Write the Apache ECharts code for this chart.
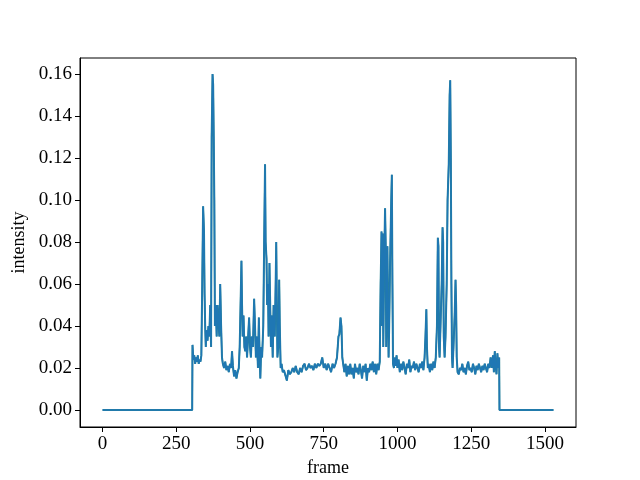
<!DOCTYPE html>
<html>
<head>
<meta charset="utf-8">
<script src="https://cdn.jsdelivr.net/npm/echarts@6/dist/echarts.min.js"></script>
<style>html,body{margin:0;padding:0;background:#fff}#c{width:640px;height:480px}</style>
</head>
<body>
<div id="c"></div>
<script>
const frames = [0,304,305,308,311,314,317,320,323,326,329,332,335,338,341,344,346,348,350,353,356,359,362,365,368,370,373,375,377,379,381,384,387,390,393,396,399,402,405,408,412,416,420,424,428,432,436,439,442,446,450,454,458,462,465,468,471,473,475,478,481,484,487,490,493,497,500,503,506,510,514,517,520,523,527,530,532,535,538,541,545,548,551,553,556,558,561,563,566,568,571,574,577,580,584,587,589,591,593,596,599,601,604,607,611,615,619,625,630,635,640,645,650,655,660,665,670,675,680,685,690,695,700,705,710,715,720,725,730,735,740,745,750,755,760,765,770,775,780,785,790,795,800,803,807,810,813,816,820,824,828,832,836,840,844,848,852,856,860,864,868,872,876,880,884,888,892,896,900,904,908,912,916,920,924,928,932,936,940,943,946,948,950,952,955,958,960,962,964,966,968,970,972,975,979,981,983,985,988,991,994,997,1000,1004,1008,1012,1016,1020,1024,1028,1032,1036,1040,1044,1048,1052,1056,1060,1064,1068,1072,1076,1080,1084,1088,1092,1095,1098,1100,1103,1106,1110,1114,1118,1122,1126,1130,1134,1137,1139,1141,1143,1146,1150,1153,1155,1157,1160,1163,1167,1170,1174,1177,1179,1181,1183,1185,1187,1190,1194,1197,1199,1201,1204,1208,1212,1216,1220,1224,1228,1232,1236,1240,1244,1248,1252,1256,1260,1264,1268,1272,1276,1280,1284,1288,1292,1296,1300,1304,1308,1312,1316,1320,1324,1327,1330,1333,1336,1339,1342,1345,1346,1529];
const intensity = [0,0,0.031,0.024,0.026,0.022,0.025,0.023,0.026,0.022,0.024,0.023,0.026,0.06,0.097,0.085,0.055,0.04,0.03,0.038,0.033,0.04,0.035,0.05,0.03,0.13,0.16,0.155,0.13,0.10,0.04,0.05,0.035,0.05,0.05,0.035,0.06,0.04,0.025,0.022,0.02,0.023,0.019,0.021,0.018,0.022,0.02,0.028,0.021,0.016,0.019,0.015,0.018,0.02,0.03,0.05,0.071,0.05,0.035,0.045,0.03,0.028,0.035,0.025,0.033,0.044,0.03,0.025,0.035,0.03,0.053,0.04,0.025,0.035,0.02,0.044,0.03,0.015,0.03,0.025,0.04,0.08,0.117,0.08,0.072,0.05,0.06,0.035,0.07,0.054,0.03,0.045,0.025,0.05,0.035,0.06,0.08,0.05,0.025,0.03,0.062,0.04,0.02,0.022,0.018,0.019,0.017,0.014,0.019,0.017,0.018,0.02,0.018,0.021,0.018,0.017,0.02,0.018,0.021,0.022,0.019,0.02,0.022,0.02,0.021,0.019,0.022,0.02,0.022,0.021,0.022,0.025,0.02,0.022,0.019,0.022,0.02,0.018,0.022,0.02,0.022,0.025,0.035,0.036,0.044,0.04,0.025,0.022,0.018,0.022,0.016,0.021,0.017,0.022,0.017,0.02,0.015,0.022,0.018,0.02,0.017,0.022,0.019,0.015,0.021,0.018,0.022,0.014,0.02,0.018,0.022,0.019,0.023,0.018,0.022,0.017,0.022,0.019,0.023,0.06,0.085,0.04,0.084,0.03,0.07,0.096,0.08,0.03,0.06,0.078,0.05,0.025,0.04,0.07,0.1,0.112,0.06,0.022,0.02,0.025,0.021,0.026,0.02,0.024,0.018,0.022,0.019,0.023,0.02,0.017,0.022,0.02,0.024,0.018,0.021,0.02,0.023,0.019,0.022,0.02,0.018,0.022,0.02,0.023,0.019,0.025,0.035,0.048,0.03,0.02,0.022,0.018,0.022,0.019,0.023,0.02,0.025,0.04,0.082,0.078,0.03,0.025,0.04,0.06,0.087,0.08,0.035,0.025,0.035,0.06,0.1,0.117,0.15,0.157,0.12,0.06,0.025,0.02,0.03,0.045,0.062,0.05,0.025,0.018,0.017,0.02,0.019,0.022,0.018,0.02,0.017,0.021,0.023,0.019,0.02,0.018,0.022,0.02,0.017,0.021,0.019,0.022,0.02,0.018,0.021,0.019,0.022,0.02,0.018,0.022,0.02,0.025,0.02,0.026,0.018,0.028,0.021,0.017,0.027,0.02,0.025,0,0];
const xTicks = [0,250,500,750,1000,1250,1500];
const yTicks = [0,0.02,0.04,0.06,0.08,0.10,0.12,0.14,0.16];

const pts = frames.map((f,i)=>[f,intensity[i]]);
const font = '"Liberation Serif","DejaVu Serif",serif';
const chart = echarts.init(document.getElementById('c'), null, {renderer:'canvas'});
chart.setOption({
  animation:false,
  grid:{left:80,right:64,top:58,bottom:53,containLabel:false,outerBoundsMode:'none',show:true,borderColor:'#000',borderWidth:1,backgroundColor:'transparent'},
  xAxis:{type:'value',min:-76.5,max:1605.5,
    name:'frame',nameLocation:'middle',nameGap:32,nameTextStyle:{fontFamily:font,fontSize:18,color:'#000'},
    axisLine:{show:true,onZero:false,lineStyle:{color:'#000',width:1}},
    axisTick:{show:true,inside:false,length:5,lineStyle:{color:'#000'},customValues:xTicks},
    axisLabel:{show:true,margin:8,fontFamily:font,fontSize:19,color:'#000',customValues:xTicks,formatter:v=>String(Math.round(v))},
    splitLine:{show:false}},
  yAxis:{type:'value',min:-0.0081,max:0.1676,
    name:'intensity',nameLocation:'middle',nameGap:50,nameRotate:90,nameTextStyle:{fontFamily:font,fontSize:18,color:'#000'},
    axisLine:{show:true,onZero:false,lineStyle:{color:'#000',width:1}},
    axisTick:{show:true,inside:false,length:5,lineStyle:{color:'#000'},customValues:yTicks},
    axisLabel:{show:true,margin:8,fontFamily:font,fontSize:19,color:'#000',customValues:yTicks,formatter:v=>v.toFixed(2)},
    splitLine:{show:false}},
  series:[
    {type:'line',data:pts,showSymbol:false,symbol:'none',lineStyle:{color:'#2a8592',width:2},z:2},
    {type:'line',data:pts,showSymbol:false,symbol:'none',lineStyle:{color:'#1f77b4',width:1.5},z:3}
  ]
});
</script>
</body>
</html>
